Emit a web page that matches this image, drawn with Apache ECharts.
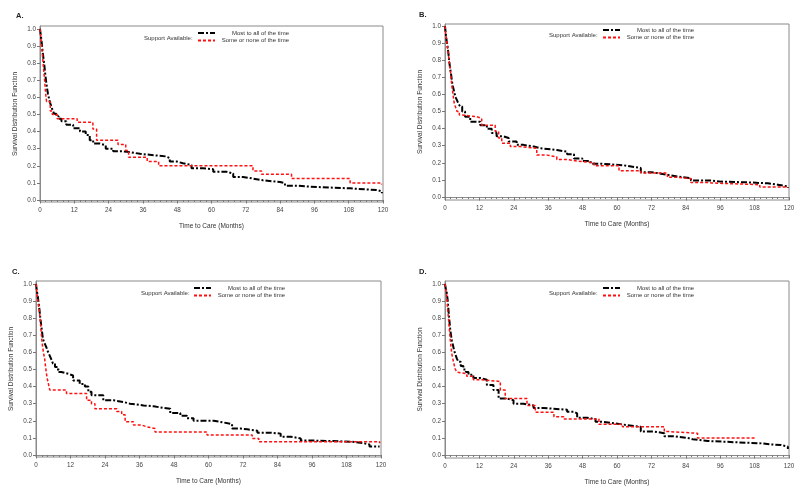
<!DOCTYPE html>
<html><head><meta charset="utf-8">
<script src="https://cdn.jsdelivr.net/npm/echarts@6/dist/echarts.min.js"></script>
<style>html,body{margin:0;padding:0;background:#fff}#c{width:800px;height:490px}</style>
</head><body><div id="c"></div>
<script>
// ---- data ----
const panelLabels = ['A.', 'B.', 'C.', 'D.'];
const seriesNames = ['Most to all of the time', 'Some or none of the time'];
const legendTitle = 'Support Available:';
const xTitle = 'Time to Care (Months)';
const yTitle = 'Survival Distribution Function';
const xTicks = [0, 12, 24, 36, 48, 60, 72, 84, 96, 108, 120];
const yTicks = [0, 0.1, 0.2, 0.3, 0.4, 0.5, 0.6, 0.7, 0.8, 0.9, 1.0];

const A_most_t = [0,0.3,0.6,0.9,1.2,1.5,1.8,2.1,2.4,2.8,3.2,3.6,4.0,4.5,5.0,5.7,6.5,7.5,9.2,11.6,14,16,17.4,18.6,21,23,25.6,29,31.4,35,41,44,45.4,47.8,50,53,57,60.6,65.3,67.6,71,74.6,78,84,85.7,90,94.5,102.7,108.5,114,118,119.6];
const A_most_s = [1,0.96,0.92,0.87,0.83,0.79,0.74,0.70,0.66,0.62,0.59,0.565,0.545,0.52,0.505,0.49,0.475,0.46,0.44,0.42,0.40,0.38,0.35,0.33,0.32,0.30,0.285,0.28,0.27,0.26,0.255,0.245,0.225,0.215,0.205,0.185,0.18,0.165,0.155,0.135,0.125,0.115,0.105,0.098,0.084,0.078,0.072,0.068,0.062,0.058,0.05,0.04];
const A_some_t = [0,0.3,0.6,0.9,1.2,1.5,1.8,2.1,2.3,3.6,4.3,6,13,18.5,19.8,27.3,30,31,37.5,41.5,74.5,77.5,88,108.5,119.5];
const A_some_s = [1,0.95,0.9,0.84,0.78,0.72,0.66,0.6,0.575,0.52,0.5,0.475,0.455,0.415,0.35,0.325,0.29,0.25,0.225,0.2,0.17,0.15,0.125,0.1,0.09];

const B_most_t = [0,0.3,0.6,0.9,1.2,1.5,1.8,2.1,2.4,2.7,3.0,3.4,3.8,4.2,4.7,5.3,6,7,8.8,12.3,14.6,16.3,18,20.4,22.2,25,27.4,31,33.3,39,42.6,45,47.9,50.8,54.3,62.5,66,68.3,71.8,74,77.6,81,85.8,92.8,96.3,106.8,112.6,116.1,119.6];
const B_most_s = [1,0.95,0.91,0.88,0.84,0.79,0.75,0.72,0.68,0.65,0.63,0.60,0.58,0.565,0.545,0.53,0.50,0.47,0.44,0.42,0.40,0.375,0.355,0.345,0.325,0.305,0.295,0.285,0.275,0.265,0.25,0.225,0.21,0.195,0.185,0.175,0.17,0.145,0.14,0.13,0.12,0.11,0.097,0.09,0.085,0.08,0.072,0.062,0.053];
const B_some_t = [0,0.3,0.6,0.9,1.2,1.5,1.8,2.1,2.4,2.8,3.2,3.6,4.2,5,5.8,11,12.8,17.5,18.7,19.8,22.8,26.3,32,35.6,39,42.6,46,52,60.7,68.3,77.6,81,85.8,91.6,93,109.8,119.5];
const B_some_s = [1,0.95,0.91,0.87,0.83,0.79,0.75,0.70,0.65,0.60,0.55,0.53,0.50,0.48,0.47,0.46,0.42,0.385,0.345,0.315,0.295,0.285,0.245,0.235,0.22,0.21,0.2,0.183,0.154,0.14,0.115,0.108,0.085,0.082,0.072,0.058,0.052];

const C_most_t = [0,0.3,0.6,0.9,1.2,1.5,1.8,2.1,2.4,2.8,3.2,3.6,4.0,4.4,4.8,5.3,5.9,6.6,7.3,8,8.8,11.2,12.9,15.2,17,18.2,19.3,23.4,26.9,30.4,32.7,37.4,40.9,44.4,46.7,50.2,52.5,54.8,61.8,65.3,68.2,71.1,73.5,77,81.6,85.1,88.6,92.1,95.6,109.5,114.2,116,119.5];
const C_most_s = [1,0.96,0.93,0.89,0.85,0.80,0.76,0.72,0.68,0.66,0.645,0.63,0.61,0.595,0.58,0.56,0.535,0.515,0.5,0.485,0.475,0.465,0.435,0.415,0.4,0.37,0.35,0.32,0.31,0.3,0.29,0.285,0.275,0.27,0.245,0.23,0.215,0.2,0.19,0.18,0.155,0.15,0.142,0.13,0.125,0.107,0.097,0.085,0.078,0.068,0.062,0.05,0.05];
const C_some_t = [0,0.3,0.6,0.9,1.2,1.5,1.8,2.1,2.4,2.7,3.0,3.3,3.6,4.0,4.4,4.8,10.6,17.6,19.3,20.5,28.1,29.8,31,33.9,36.8,38.5,41.4,59.5,75.2,77.5,119.5];
const C_some_s = [1,0.95,0.91,0.87,0.84,0.78,0.72,0.66,0.62,0.59,0.565,0.52,0.48,0.44,0.41,0.38,0.36,0.32,0.3,0.27,0.255,0.235,0.195,0.175,0.165,0.155,0.135,0.117,0.097,0.078,0.068];

const D_most_t = [0,0.3,0.6,0.9,1.2,1.5,1.8,2.1,2.4,2.8,3.2,3.6,4.1,4.7,5.5,6.4,7.3,8.2,9.9,12.3,14.6,16.9,18.7,21.6,23.9,27.4,30.9,34.4,42.6,44.9,46.1,49.6,52.5,54.3,59,63.6,68.3,73,76.5,80,84.7,86.4,91.7,101,110.4,113.8,117.3,119.6];
const D_most_s = [1,0.97,0.95,0.91,0.85,0.79,0.74,0.70,0.67,0.64,0.61,0.59,0.565,0.545,0.52,0.5,0.485,0.47,0.45,0.44,0.41,0.38,0.33,0.32,0.3,0.29,0.275,0.265,0.253,0.243,0.218,0.21,0.195,0.185,0.175,0.165,0.137,0.127,0.11,0.1,0.092,0.082,0.075,0.068,0.062,0.058,0.049,0.035];
const D_some_t = [0,0.3,0.6,0.9,1.2,1.5,1.8,2.1,2.4,2.7,3.1,3.5,4.1,4.7,7.6,9.9,12.8,19.3,21,28.6,31.5,38,41.4,53.7,61.9,76.5,78.2,88.1,108.6];
const D_some_s = [1,0.97,0.93,0.86,0.8,0.74,0.68,0.63,0.59,0.565,0.535,0.505,0.485,0.475,0.46,0.44,0.43,0.38,0.33,0.29,0.25,0.224,0.21,0.18,0.165,0.137,0.127,0.1,0.1];

const panelData = [
  [[A_most_t, A_most_s], [A_some_t, A_some_s]],
  [[B_most_t, B_most_s], [B_some_t, B_some_s]],
  [[C_most_t, C_most_s], [C_some_t, C_some_s]],
  [[D_most_t, D_most_s], [D_some_t, D_some_s]]
];

// ---- layout ----
const FONT = 'Liberation Sans, Arial, sans-serif';
const grids = [
  {left: 40, top: 26, width: 343, height: 176, ymin: -0.0117, ymax: 1.0175},
  {left: 445, top: 24, width: 344, height: 176, ymin: -0.0175, ymax: 1.012},
  {left: 36, top: 281, width: 345, height: 176, ymin: -0.0117, ymax: 1.0175},
  {left: 445, top: 281, width: 344, height: 177, ymin: -0.0175, ymax: 1.0175}
];
const labelPos = [[11, 7], [414, 6], [7, 263], [414, 263]];
const legPos = [
  {titleX: 139, iconX: 197, y: 30},
  {titleX: 544, iconX: 602, y: 27},
  {titleX: 136, iconX: 193, y: 285},
  {titleX: 544, iconX: 602, y: 285}
];
const lineStyles = [
  {color: '#000000', width: 2, type: [6, 2, 2, 2]},
  {color: '#ff1010', width: 1.5, type: [3, 2]}
];

const option = {
  backgroundColor: '#fff',
  animation: false,
  textStyle: {fontFamily: FONT},
  title: [], legend: [], grid: [], xAxis: [], yAxis: [], series: []
};

grids.forEach((g, i) => {
  option.grid.push({left: g.left, top: g.top, width: g.width, height: g.height,
    show: true, borderColor: '#8a8a8a', borderWidth: 1, containLabel: false});
  option.xAxis.push({
    type: 'value', gridIndex: i, min: 0, max: 120, interval: 12,
    name: xTitle, nameLocation: 'middle', nameGap: 21,
    nameTextStyle: {fontSize: 6.5, color: '#333', fontFamily: FONT},
    axisLine: {show: true, lineStyle: {color: '#8a8a8a', width: 1}},
    axisTick: {show: true, length: 3.5, lineStyle: {color: '#777'}},
    minorTick: {show: true, splitNumber: 6, length: 2, lineStyle: {color: '#777'}},
    splitLine: {show: false},
    axisLabel: {fontSize: 6.3, color: '#444', margin: 5, fontFamily: FONT}
  });
  option.yAxis.push({
    type: 'value', gridIndex: i, min: g.ymin, max: g.ymax,
    name: yTitle, nameLocation: 'middle', nameGap: 21, nameRotate: 90,
    nameTextStyle: {fontSize: 6.5, color: '#333', fontFamily: FONT},
    axisLine: {show: true, lineStyle: {color: '#8a8a8a', width: 1}},
    axisTick: {show: true, length: 3, customValues: yTicks, lineStyle: {color: '#777'}},
    splitLine: {show: false},
    axisLabel: {fontSize: 6.3, color: '#444', margin: 4, fontFamily: FONT,
      customValues: yTicks, formatter: v => v.toFixed(1)}
  });
  option.title.push({text: panelLabels[i], left: labelPos[i][0], top: labelPos[i][1],
    textStyle: {fontSize: 7.5, fontWeight: 'bold', color: '#222', fontFamily: FONT}});
  option.title.push({text: legendTitle, left: legPos[i].titleX, top: legPos[i].y,
    textStyle: {fontSize: 6, fontWeight: 'normal', color: '#333', fontFamily: FONT}});
  option.legend.push({
    left: legPos[i].iconX, top: legPos[i].y, orient: 'vertical', padding: 0,
    itemWidth: 17, itemHeight: 5, itemGap: 1.5, selectedMode: false,
    itemStyle: {opacity: 0},
    data: seriesNames.map(n => ({name: n, itemStyle: {opacity: 0}})),
    formatter: n => '{r|' + n + '}',
    textStyle: {fontSize: 6, color: '#333', fontFamily: FONT,
      rich: {r: {width: 69, align: 'right', fontSize: 6, color: '#333', fontFamily: FONT}}}
  });
  panelData[i].forEach((pair, k) => {
    const [ts, ss] = pair;
    option.series.push({
      name: seriesNames[k], type: 'line', step: 'end',
      xAxisIndex: i, yAxisIndex: i,
      symbol: 'none', showSymbol: false,
      color: lineStyles[k].color,
      lineStyle: lineStyles[k],
      data: ts.map((t, j) => [t, ss[j]]),
      z: k === 0 ? 2 : 3
    });
  });
});

const chart = echarts.init(document.getElementById('c'), null, {renderer: 'canvas'});
chart.setOption(option);
</script>
</body></html>
